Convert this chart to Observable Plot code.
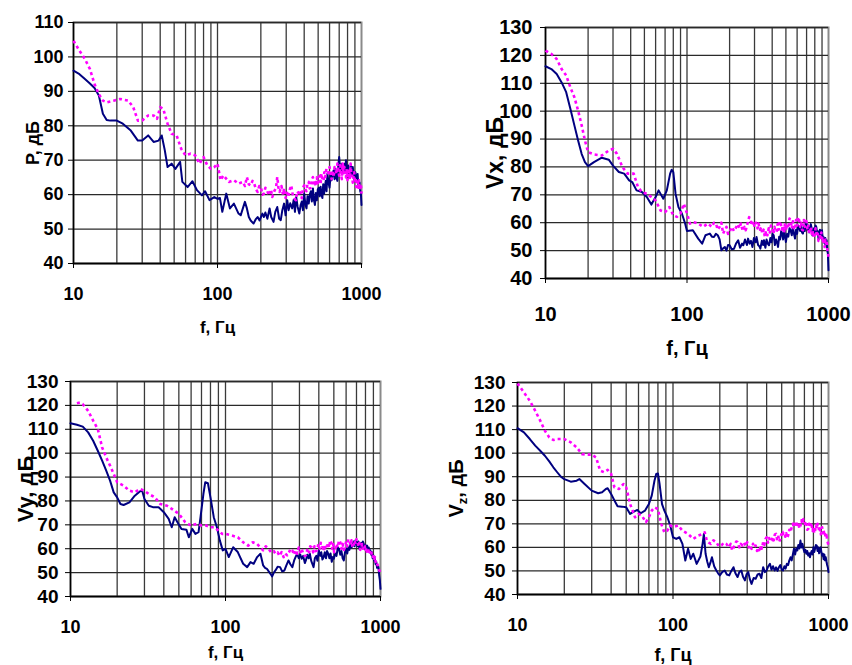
<!DOCTYPE html>
<html><head><meta charset="utf-8">
<script src="https://cdn.jsdelivr.net/npm/d3@7"></script>
<script src="https://cdn.jsdelivr.net/npm/@observablehq/plot@0.6"></script>
<style>
body{margin:0;background:#fff}
#c{position:relative;width:852px;height:665px;overflow:hidden;background:#fff}
#c svg{position:absolute}
</style>
</head><body><div id="c"></div>
<script>
// ---- tick / grid values ----
const xTicks = [10, 100, 1000];
const xGrid = [20,30,40,50,60,70,80,90,100,200,300,400,500,600,700,800,900];
const yTicksP = [40,50,60,70,80,90,100,110];
const yTicksV = [40,50,60,70,80,90,100,110,120,130];

// ---- data: [frequency Hz, level dB] ----
const P_navy = [[10,96],[11,95],[12,93.6],[13,92.3],[14,91],[15,88.8],[16,83.5],[17,81.7],[18,81.5],[20,81.5],[22,80.6],[25,78.6],[28,75.7],[30,75.7],[33,77.2],[36,75.3],[39,75.7],[41,77.2],[43,73],[45,68],[48,69],[51,67.5],[55,69.5],[57,63.7],[62,62.2],[67,63.9],[72,61.3],[78,59.8],[82,61],[88,58.4],[95,59.3],[100,58.8],[104,59],[108,55],[115,60.3],[122,56],[130,57.4],[140,54.5],[145,54],[150,56],[155,57.9],[160,56],[165,53.5],[170,52.5],[178,51.6],[184,52.8],[190,53.5],[196,52.5],[205,54.5],[210,53.5],[215,54.8],[222,53],[230,56],[236,53.5],[245,52.1],[252,55],[260,56.4],[268,53],[275,52.6],[282,55.5],[290,57.4],[297,54],[305,58.4],[312,55.5],[320,57.5],[330,56],[338,58.5],[345,55],[352,59.3],[360,56.5],[370,54.5],[378,57],[385,58],[392,55.5],[400,60.3],[408,57],[415,56],[422,59.5],[430,57.4],[437,60],[445,61],[452,58],[460,61.8],[467,58.5],[475,57],[482,60.5],[490,58.4],[497,61.5],[505,62],[512,59.5],[520,62.3],[527,60],[535,59],[542,63],[550,60.3],[557,62.5],[565,64],[572,61],[580,66.1],[590,63.5],[600,62],[610,65.5],[620,64.2],[630,66],[640,67],[650,64.5],[660,67.5],[670,65],[680,64],[690,68.5],[700,70.9],[710,67.5],[720,67],[730,69],[740,66.1],[750,68],[760,69],[770,66.5],[780,70],[790,67],[800,66],[810,68.5],[820,65.1],[832,67],[845,68.5],[857,65.5],[870,68],[882,66],[895,64],[907,66.5],[920,63.7],[930,65],[940,66],[950,63],[960,62.2],[970,63.5],[980,61],[990,60.5],[1000,57]];
const P_magenta = [[10,104.7],[11,101.8],[12,99.4],[13,96.5],[14,92.1],[15,89.2],[16,87.3],[17,86.8],[19,87.3],[21,87.8],[24,87.3],[26,85.4],[28,81.5],[30,81.5],[33,83],[36,83],[38,82],[40,85.4],[42,84.9],[45,80.6],[48,77.7],[52,77.2],[56,73.3],[60,71.4],[65,71.9],[70,71.4],[75,69],[80,70.9],[85,68.5],[90,67.5],[95,68],[100,69],[105,64.2],[110,65.6],[120,63.7],[130,64.2],[140,63.2],[150,63.7],[155,62.5],[160,65.1],[165,63],[170,62.7],[175,64],[180,63.2],[185,61.5],[190,60.8],[195,62.5],[200,62.2],[205,60],[210,60.3],[215,62],[220,61.3],[228,59.8],[235,61.5],[240,59.3],[248,61],[255,62],[260,65.1],[265,62],[270,60.8],[278,62.5],[285,60],[290,61.8],[297,59],[305,60.5],[310,59.3],[318,61.5],[325,62.7],[333,60],[340,59],[350,58.4],[358,61],[365,60.5],[370,61.3],[378,59.5],[385,59],[392,62],[400,62.7],[408,61.5],[415,61],[422,63.5],[430,63.7],[437,61.8],[445,62],[452,64.5],[460,65.1],[467,62.8],[475,63.5],[482,62.5],[490,65],[497,63.3],[505,64.2],[512,65.5],[520,63],[527,66.1],[535,64.5],[545,64],[552,66.5],[560,65.1],[570,67.5],[580,67],[590,65.5],[600,68],[610,66],[620,64.5],[630,67],[640,65.1],[650,68],[660,67.5],[670,66],[680,69],[690,67],[700,65.5],[710,68.5],[720,66.1],[730,64.5],[740,69],[750,66.5],[760,68],[770,65.5],[780,65],[790,67.5],[800,64.2],[810,66.5],[820,67],[830,64.5],[840,69],[850,66],[860,66],[870,63.5],[880,65.1],[890,66.5],[900,63.5],[910,65],[920,62.2],[930,64],[940,64.5],[950,62],[960,64.2],[970,61.5],[980,62],[990,63],[1000,60.3]];

const Vx_navy = [[10,116.1],[11,115.1],[12,113.3],[13,110.3],[14,106.8],[15,100.8],[16,94.9],[17,89.5],[18,84.7],[19,81.7],[20,80.3],[22,81.7],[25,83.3],[28,82.6],[30,80.5],[33,78.2],[36,77.6],[39,75.2],[41,74.6],[44,71.6],[48,71],[52,69.2],[56,66.5],[60,69.2],[63,71.6],[68,68.6],[72,71.6],[76,77.6],[78,79],[80,78.2],[83,70.4],[87,65.6],[92,63.3],[97,59.7],[100,57],[110,57.3],[120,54.3],[128,52.5],[135,55.5],[145,56.1],[150,55],[155,54.9],[160,56],[165,55.5],[170,54],[175,50.1],[180,50.8],[185,51.3],[190,50],[195,52],[200,51.9],[207,50.5],[215,50.7],[222,52.5],[230,53.7],[237,51],[245,52.5],[250,51.9],[257,54],[265,52],[270,54.3],[277,52.5],[283,53.5],[290,51.3],[297,54.5],[305,53],[310,54.9],[318,52],[325,51.5],[330,50.7],[338,53.5],[345,52],[350,53.7],[358,51],[365,54],[372,52.5],[380,51.9],[388,54.5],[395,53],[403,56],[410,55.5],[418,52],[426,54],[433,53],[440,51.3],[448,55],[455,54],[463,57],[470,56.1],[478,54],[486,57.5],[493,55],[500,53.1],[510,56],[520,55],[530,58],[540,57.3],[550,55.5],[560,58.5],[570,56],[580,54.3],[590,57.5],[600,56],[610,59],[620,58.5],[630,57],[640,59.5],[650,56.5],[660,56.1],[670,58.5],[680,57],[690,60],[700,59.7],[710,57.5],[720,59],[730,56.5],[740,57.3],[750,59.5],[760,58],[770,55.5],[780,56.1],[790,58],[800,56.5],[810,59],[820,58.5],[830,56.5],[840,57],[850,54],[860,54.9],[870,57.5],[880,55.5],[890,56.5],[900,57.3],[910,54],[920,55],[930,53],[940,52.5],[950,54.5],[960,52],[970,53.7],[980,50],[990,49],[1000,43]];
const Vx_magenta = [[10,121.7],[11,120.5],[12,118.7],[13,115.1],[14,112.8],[15,108.5],[16,105],[17,100.2],[18,95],[19,89.5],[20,85.3],[22,84.5],[25,84.1],[28,85.9],[30,86.5],[32,84.7],[35,79.9],[38,77.6],[42,77.6],[45,72.8],[48,71],[52,70.4],[56,69.2],[60,68],[65,64.4],[70,63.8],[75,65.6],[80,62.7],[85,62.1],[90,63.3],[95,66.8],[100,63.3],[105,59.7],[110,60.3],[120,59.7],[130,58.5],[140,59.7],[150,58.5],[155,60],[160,59.7],[165,57.5],[170,58.5],[175,60],[180,56.1],[185,57.5],[190,58.5],[195,56],[200,56.7],[207,58.5],[215,57],[220,57.9],[228,59.5],[235,58],[240,59.7],[248,57],[255,58.5],[260,57.3],[267,59.5],[275,62],[280,61.5],[287,59],[295,60.5],[300,58.5],[307,60],[315,58],[320,59.7],[328,57.5],[335,58.5],[340,56.1],[348,57.5],[355,55],[362,57],[370,55.5],[378,58],[385,56.5],[392,59],[400,58.5],[408,56],[415,58.5],[422,57],[430,56.7],[437,59.5],[445,57.5],[452,60.5],[460,59.7],[468,57.5],[476,59],[485,56.5],[493,60],[500,57.3],[510,59.5],[520,58],[530,61.5],[540,60.9],[550,58],[560,60.5],[570,57.5],[580,57.9],[590,61],[600,59],[610,62],[620,60.9],[630,58.5],[640,60],[650,57.5],[660,57.3],[670,61],[680,58.5],[690,61.5],[700,60.3],[710,57.5],[720,59],[730,56],[740,56.7],[750,58.5],[760,56],[770,57.5],[780,54.9],[790,56.5],[800,55.5],[810,58],[820,57.3],[830,55],[840,56],[850,53.5],[860,53.7],[870,56],[880,54.5],[890,56.5],[900,55.5],[910,53],[920,54.5],[930,52],[940,51.3],[950,54],[960,52.5],[970,53.7],[980,50.5],[990,49.5],[1000,47.8]];

const Vy_navy = [[10,112.5],[11,111.9],[12,111.1],[13,108.7],[14,105.2],[15,101],[16,96.9],[17,92.7],[18,88.5],[19,83.6],[20,81.5],[21,78.7],[22,78.3],[24,79.4],[26,82.2],[28,84],[29,84.3],[30,80.8],[32,78],[34,77.4],[37,77.4],[40,75.3],[43,72.5],[45,69],[47,73.2],[49,71.1],[52,68.3],[56,67.9],[58,64.8],[61,68.3],[64,66.2],[67,66.9],[69,73.2],[72,82.9],[74,87.8],[77,87.4],[80,81.5],[84,73.2],[88,69],[92,63.4],[96,59.3],[100,59.9],[105,56.5],[112,60.6],[120,58.6],[130,53.7],[138,52.3],[145,54.4],[152,53.7],[160,56.5],[168,57.9],[175,53],[180,52],[185,51.6],[190,50.5],[195,49.5],[200,48.4],[205,50],[210,50.9],[217,52.5],[225,52.3],[232,50.5],[240,50.9],[247,53],[255,55.1],[262,53.5],[270,52.3],[277,55],[283,56.5],[290,57.9],[297,56],[304,57.5],[310,55.8],[317,57],[325,54],[330,55.1],[337,57.5],[344,56],[350,57.9],[357,55],[364,53.5],[370,52.3],[377,56],[385,57],[392,55],[400,59.3],[408,57],[415,58.5],[422,55.5],[430,56.5],[437,58.5],[445,56],[452,59],[460,57.9],[468,56],[476,58],[485,54.5],[493,56.5],[500,55.8],[510,58],[520,57],[530,60.5],[540,59.9],[550,57.5],[560,59],[570,56],[580,55.1],[590,58.5],[600,60],[610,58],[620,60.6],[630,59.5],[640,62],[650,60.5],[660,61.3],[670,63],[680,61],[690,63.5],[700,62.7],[710,61],[720,63],[730,60],[740,60.6],[750,62.5],[760,60.5],[770,63],[780,62],[790,60],[800,61.5],[810,59.5],[820,61.3],[830,59],[840,60.5],[850,58.5],[860,59.3],[870,57.5],[880,58.5],[890,56],[900,57.2],[910,55],[920,56],[930,53.5],[940,54.4],[950,52],[960,53],[970,52.3],[980,49],[990,47],[1000,43.2]];
const Vy_magenta = [[11,120.9],[11.5,121.2],[12,120.5],[13,117.7],[14,113.6],[15,110.1],[16,102.4],[17,98.2],[18,94.8],[19,91.3],[20,87.8],[22,86.4],[24,84.3],[26,83.6],[28,85],[30,84.3],[32,82.9],[35,81.5],[38,78.7],[42,78],[45,76.7],[50,74.6],[55,71.1],[60,69.7],[65,70.4],[70,69.7],[75,69.7],[80,69],[85,69],[90,67.6],[95,66.2],[100,66.2],[110,65.5],[120,64.8],[130,62.7],[140,61.3],[150,62.7],[160,62],[168,60.5],[175,59.3],[182,61],[190,59.9],[197,58.5],[205,59],[210,57.9],[217,58.5],[223,57],[230,58.6],[237,56.5],[243,58],[250,57.2],[257,58.5],[263,60],[270,59.3],[277,57.5],[283,59.5],[290,57.9],[297,60.5],[304,58.5],[310,59.9],[317,58],[324,57],[330,57.2],[337,59.5],[345,58],[352,61],[360,60.6],[368,58.5],[375,61],[382,59],[390,59.3],[397,62],[405,60],[412,62.5],[420,61.3],[428,59],[435,61.5],[442,60],[450,59.9],[458,62.5],[466,60.5],[474,63.5],[480,62.7],[488,60],[495,62],[502,58.5],[510,59.3],[520,62],[530,60.5],[540,63.5],[550,62.7],[560,60],[570,62],[580,59.5],[590,60.6],[600,63],[610,61],[620,64],[630,63.4],[640,61.5],[650,63.5],[660,60.5],[670,61.3],[680,63.5],[690,62],[700,64],[710,63.4],[720,61],[730,62.5],[740,59.5],[750,59.9],[760,62],[770,60],[780,61.5],[790,61.3],[800,59],[810,60.5],[820,58],[830,57.9],[840,60],[850,58.5],[860,59.5],[870,59.3],[880,57],[890,57.5],[900,56],[910,55.1],[920,56.5],[930,54.5],[940,55],[950,53.7],[960,53],[970,52],[980,51],[990,50.5],[1000,49.5]];

const Vz_navy = [[10,110.6],[11,108.8],[12,106],[13,103.2],[14,101],[15,98.9],[16,96.5],[17,94],[18,91.9],[19,90],[20,89],[22,87.9],[24,88.3],[25,89],[27,86.9],[30,84.1],[33,83],[35,83.4],[37,84.8],[38,85.1],[40,82.7],[42,79.9],[44,77.5],[47,77.3],[50,77],[53,74.2],[56,75.2],[59,75.9],[62,74.5],[66,75.6],[70,78.4],[73,82],[76,88.3],[78,91.2],[80,91.4],[82,86.9],[85,78.4],[88,75.6],[92,72.8],[96,69.3],[100,64.3],[105,63.6],[110,64.3],[115,61.5],[120,54.4],[125,59.4],[130,55.1],[135,57.3],[142,53],[150,56.1],[155,61.5],[158,65.7],[162,57.3],[166,54],[170,51.6],[174,53.5],[178,55.8],[184,52],[190,50.2],[195,49],[200,48.1],[207,49.5],[215,50.2],[222,48.5],[230,48.1],[237,50],[245,51.6],[252,49],[260,47.4],[267,49.5],[275,50.2],[282,47.5],[290,46],[297,48.5],[305,49.5],[312,46.5],[320,44.5],[330,47],[340,46.7],[350,48.5],[360,48.8],[370,47],[380,51.6],[390,49.5],[400,50.2],[410,52],[420,53],[430,50.5],[440,52],[450,50.2],[460,51.5],[470,50],[480,51.6],[490,52.5],[500,50.5],[510,50.2],[520,52],[530,51],[540,53],[550,52.5],[560,54.5],[570,55.8],[580,54.5],[590,57],[600,59.4],[610,57],[620,59.5],[630,58.7],[640,61],[650,59.5],[660,62.9],[670,60],[680,61.5],[690,59.4],[700,58],[710,59],[720,57.3],[730,58.5],[740,56.5],[750,57.5],[760,55.8],[770,57.5],[780,58.5],[790,57],[800,60.1],[810,58],[820,59.5],[830,61],[840,60.8],[850,58.5],[860,60],[870,57.5],[880,58.7],[890,60],[900,58],[910,56.5],[920,57.3],[930,55],[940,57],[950,54.5],[960,55.8],[970,54],[980,52.5],[990,51.5],[1000,49.5]];
const Vz_magenta = [[10,129.6],[11,125.8],[12,122.2],[13,118],[14,113.8],[15,109.5],[16,106.7],[17,105.6],[18,106],[20,106],[22,104.6],[24,102.5],[26,99.6],[28,99.4],[30,99.4],[32,98.2],[34,92.6],[36,91.9],[38,92.9],[40,91.2],[42,85.5],[45,84.8],[48,86.9],[50,85.5],[53,78.4],[57,72.8],[60,74.2],[63,73.5],[67,70.7],[70,72.8],[73,75.6],[76,77],[80,76.3],[84,70],[88,66.4],[92,67.1],[96,69.3],[100,68.6],[108,69.3],[115,67.1],[125,65.7],[135,63.6],[145,65],[155,65.7],[160,66.4],[165,62.9],[170,62],[175,61.5],[182,63],[190,62.2],[197,60.5],[205,60.8],[212,62],[220,61.5],[228,60],[235,61.5],[240,58.7],[248,60.5],[255,62.5],[260,62.2],[267,60],[273,61.5],[280,60.8],[287,62],[293,60.5],[300,62.2],[307,60],[313,61],[320,59.4],[327,61.5],[333,60],[340,60.8],[347,58.5],[353,60],[360,58],[367,61],[373,59.5],[380,62.2],[387,61],[393,63.5],[400,64.3],[408,62],[415,64],[422,62.5],[430,62.9],[437,64.5],[445,63],[452,65.5],[460,65.7],[467,63.5],[475,65],[482,62.5],[490,63.6],[497,65.5],[505,64.5],[512,66.5],[520,66.4],[527,64.5],[535,66],[542,64],[550,65],[560,67.5],[570,66.5],[580,68.6],[590,70],[600,68.5],[610,71],[620,70.7],[630,68.5],[640,70.5],[650,68],[660,69.3],[670,71.5],[680,70],[690,72],[700,71.4],[710,69],[720,70],[730,67.5],[740,67.8],[750,70],[760,68.5],[770,70.5],[780,69.3],[790,67],[800,68.5],[810,66],[820,67.1],[830,69.5],[840,68],[850,70],[860,69.3],[870,67],[880,68],[890,65.5],[900,66.4],[910,68.5],[920,66],[930,67.5],[940,65],[950,65.7],[960,64],[970,66],[980,63],[990,62],[1000,60.8]];

const NAVY = "#000080", MAGENTA = "#FF00FF";
const FONT = "'Liberation Sans', Arial, Helvetica, sans-serif";

function panel(o) {
  const y0 = o.yTicks[0];
  const svg = Plot.plot({
    width: o.w, height: o.h,
    marginLeft: o.ml, marginRight: o.mr, marginTop: o.mt, marginBottom: o.mb,
    x: {type: "log", domain: [10, 1000]},
    y: {domain: [y0, o.yTicks[o.yTicks.length - 1]]},
    style: {fontFamily: FONT, background: "transparent", color: "#000", overflow: "visible"},
    marks: [
      Plot.frame({stroke: "#8a8a8a", strokeWidth: 2}),
      Plot.gridX({ticks: xGrid, stroke: "#3a3a3a", strokeOpacity: 1, strokeWidth: 1.3}),
      Plot.gridY({ticks: o.yTicks, stroke: "#2a2a2a", strokeOpacity: 1, strokeWidth: 1.3}),
      Plot.ruleX([10], {stroke: "#000", strokeWidth: 1.5}),
      Plot.ruleY([y0], {stroke: "#000", strokeWidth: 1.5}),
      Plot.axisY({ticks: o.yTicks, tickSize: 5, tickPadding: o.ytp, fontSize: o.yfs, fontWeight: "bold", label: null, tickFormat: d => String(d)}),
      Plot.axisX({ticks: xTicks, tickSize: 5, tickPadding: o.xtp, fontSize: o.xfs, fontWeight: "bold", label: null, tickFormat: d => String(d)}),
      Plot.line(o.navy, {x: d => d[0], y: d => d[1], stroke: NAVY, strokeWidth: 2, strokeLinejoin: "round"}),
      Plot.line(o.magenta, {x: d => d[0], y: d => d[1], stroke: MAGENTA, strokeWidth: 2.6, strokeDasharray: "3,3", strokeLinecap: "butt"}),
      Plot.text([o.xlabel], {text: d => d, frameAnchor: "bottom", textAnchor: "middle", lineAnchor: "top", dy: o.xlDy, fontSize: o.xlfs, fontWeight: "bold"}),
      Plot.text([o.ylabel], {text: d => d, frameAnchor: "left", textAnchor: "middle", lineAnchor: "middle", rotate: -90, dx: o.ylDx, fontSize: o.ylfs, fontWeight: "bold"})
    ]
  });
  svg.style.left = o.left + "px";
  svg.style.top = o.top + "px";
  if (o.sub) {
    svg.querySelectorAll("text").forEach(t => {
      if (t.textContent === o.ylabel) {
        const [a, s, b] = o.sub;
        t.textContent = "";
        const ns = "http://www.w3.org/2000/svg";
        const t1 = document.createElementNS(ns, "tspan"); t1.textContent = a; t.appendChild(t1);
        const t2 = document.createElementNS(ns, "tspan"); t2.textContent = s; t2.setAttribute("font-size", "13"); t2.setAttribute("dy", "4"); t.appendChild(t2);
        const t3 = document.createElementNS(ns, "tspan"); t3.textContent = b; t3.setAttribute("dy", "-4"); t.appendChild(t3);
      }
    });
  }
  document.getElementById("c").appendChild(svg);
}

panel({left: 0, top: 0, w: 430, h: 340, ml: 73, mr: 69, mt: 22, mb: 77,
  yTicks: yTicksP, navy: P_navy, magenta: P_magenta,
  ytp: 5, yfs: 18, xtp: 19, xfs: 18, xlabel: "f, Гц", xlDy: 57, xlfs: 17,
  ylabel: "P, дБ", ylDx: -40, ylfs: 18});
panel({left: 430, top: 0, w: 422, h: 360, ml: 115, mr: 24, mt: 27, mb: 82,
  yTicks: yTicksV, navy: Vx_navy, magenta: Vx_magenta,
  ytp: 8, yfs: 20, xtp: 23, xfs: 20, xlabel: "f, Гц", xlDy: 62, xlfs: 20,
  ylabel: "Vx, дБ", ylDx: -50, ylfs: 23});
panel({left: 0, top: 340, w: 430, h: 325, ml: 70, mr: 50, mt: 41, mb: 69,
  yTicks: yTicksV, navy: Vy_navy, magenta: Vy_magenta,
  ytp: 7, yfs: 19, xtp: 19, xfs: 18, xlabel: "f, Гц", xlDy: 49, xlfs: 17,
  ylabel: "Vy, дБ", ylDx: -45, ylfs: 22});
panel({left: 430, top: 360, w: 422, h: 305, ml: 87, mr: 24, mt: 22, mb: 71,
  yTicks: yTicksV, navy: Vz_navy, magenta: Vz_magenta,
  ytp: 7, yfs: 19, xtp: 19, xfs: 18, xlabel: "f, Гц", xlDy: 54, xlfs: 18,
  ylabel: "Vz, дБ", ylDx: -61, ylfs: 20, sub: ["V", "z", ", дБ"]});
</script>
</body></html>
